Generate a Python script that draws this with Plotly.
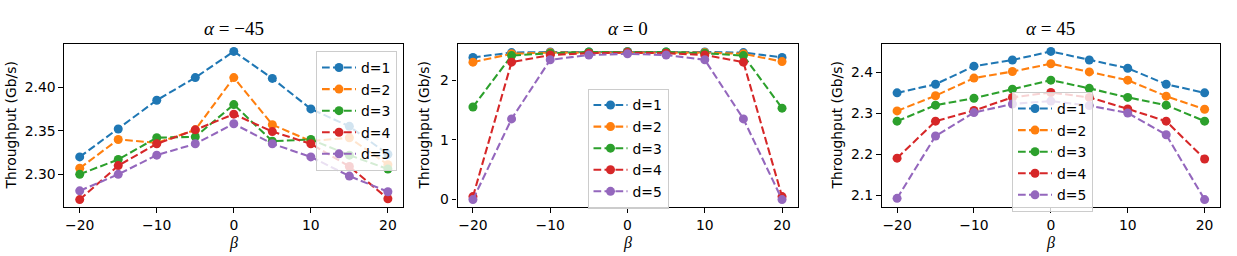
import plotly.graph_objects as go

# ---------------- data ----------------
beta = [-20, -15, -10, -5, 0, 5, 10, 15, 20]
series_names = ["d=1", "d=2", "d=3", "d=4", "d=5"]
panel_titles = ["<i>α</i> = −45", "<i>α</i> = 0", "<i>α</i> = 45"]
x_tick_vals = [-20, -10, 0, 10, 20]

# alpha = -45
am45_d1 = [2.320, 2.352, 2.385, 2.411, 2.441, 2.410, 2.375, 2.355, 2.323]
am45_d2 = [2.307, 2.340, 2.336, 2.351, 2.411, 2.357, 2.338, 2.342, 2.311]
am45_d3 = [2.300, 2.317, 2.342, 2.343, 2.380, 2.338, 2.340, 2.322, 2.306]
am45_d4 = [2.271, 2.310, 2.335, 2.351, 2.369, 2.349, 2.335, 2.309, 2.272]
am45_d5 = [2.281, 2.300, 2.322, 2.335, 2.358, 2.335, 2.320, 2.298, 2.280]

# alpha = 0
a0_d1 = [2.38, 2.46, 2.47, 2.47, 2.48, 2.47, 2.47, 2.46, 2.38]
a0_d2 = [2.30, 2.44, 2.46, 2.46, 2.47, 2.46, 2.46, 2.44, 2.31]
a0_d3 = [1.55, 2.41, 2.45, 2.47, 2.47, 2.47, 2.45, 2.41, 1.53]
a0_d4 = [0.05, 2.30, 2.42, 2.45, 2.46, 2.45, 2.42, 2.30, 0.05]
a0_d5 = [0.00, 1.35, 2.34, 2.42, 2.44, 2.42, 2.34, 1.35, 0.00]

# alpha = 45
a45_d1 = [2.350, 2.371, 2.415, 2.430, 2.451, 2.430, 2.410, 2.371, 2.350]
a45_d2 = [2.306, 2.343, 2.386, 2.402, 2.421, 2.401, 2.381, 2.342, 2.310]
a45_d3 = [2.281, 2.320, 2.337, 2.359, 2.381, 2.361, 2.339, 2.320, 2.281]
a45_d4 = [2.191, 2.281, 2.307, 2.339, 2.351, 2.339, 2.311, 2.281, 2.189]
a45_d5 = [2.093, 2.245, 2.302, 2.323, 2.330, 2.319, 2.301, 2.248, 2.090]

panels = [
    [am45_d1, am45_d2, am45_d3, am45_d4, am45_d5],
    [a0_d1, a0_d2, a0_d3, a0_d4, a0_d5],
    [a45_d1, a45_d2, a45_d3, a45_d4, a45_d5],
]
y_tick_vals = [[2.30, 2.35, 2.40], [0, 1, 2], [2.1, 2.2, 2.3, 2.4]]
y_tick_fmt = [".2f", "d", ".1f"]

# ---------------- style ----------------
W, H = 1237, 256
colors = ["#1f77b4", "#ff7f0e", "#2ca02c", "#d62728", "#9467bd"]
x_px = [(64.3, 403.3), (457.5, 797.5), (881.7, 1220.0)]
y_px = (44.0, 207.0)
ylab_x_px = [10, 423, 836]
legend_pos = [  # (x px, y px, xanchor)
    (397.0, 51.0, "right"),
    (587.5, 88.5, "left"),
    (1012.0, 92.0, "left"),
]
sans = "DejaVu Sans"
serif = "Liberation Serif"
fs = 13.9

fig = go.Figure()
layout = dict(
    width=W, height=H,
    margin=dict(l=0, r=0, t=0, b=0),
    paper_bgcolor="white", plot_bgcolor="white",
    font=dict(family=sans, size=fs, color="black"),
    showlegend=True,
    annotations=[],
)
ydom = [(H - y_px[1]) / H, (H - y_px[0]) / H]

for p, series in enumerate(panels):
    sfx = "" if p == 0 else str(p + 1)
    xa, ya = "x" + sfx, "y" + sfx
    leg = "legend" + sfx
    for i, (name, vals) in enumerate(zip(series_names, series)):
        fig.add_trace(go.Scatter(
            x=beta, y=vals, name=name, mode="lines+markers",
            xaxis=xa, yaxis=ya, legend=leg,
            legendgroup=f"p{p}g{i}",
            line=dict(color=colors[i], width=2.08, dash="7.7px,3.3px"),
            marker=dict(color=colors[i], size=9, line=dict(width=0)),
        ))
    allv = [v for s in series for v in s]
    lo, hi = min(allv), max(allv)
    pad = 0.05 * (hi - lo)
    axis_common = dict(
        showline=True, linecolor="black", linewidth=1.1, mirror=True,
        showgrid=False, zeroline=False,
        ticks="outside", ticklen=4.9, tickwidth=1.1, tickcolor="black",
        tickfont=dict(family=sans, size=fs, color="black"),
    )
    layout["xaxis" + sfx] = dict(
        domain=[x_px[p][0] / W, x_px[p][1] / W], anchor=ya,
        range=[-22, 22], tickmode="array", tickvals=x_tick_vals,
        **axis_common,
    )
    layout["yaxis" + sfx] = dict(
        domain=ydom, anchor=xa,
        range=[lo - pad, hi + pad], tickmode="array",
        tickvals=y_tick_vals[p], tickformat=y_tick_fmt[p],
        **axis_common,
    )
    lx, ly, lanchor = legend_pos[p]
    layout[leg] = dict(
        x=lx / W, y=(H - ly) / H, xanchor=lanchor, yanchor="top",
        xref="paper", yref="paper",
        bgcolor="rgba(255,255,255,0.8)", bordercolor="#cccccc", borderwidth=1,
        font=dict(family=sans, size=fs, color="black"),
        tracegroupgap=0.5, itemwidth=34,
    )
    cx = (x_px[p][0] + x_px[p][1]) / 2 / W
    layout["annotations"].append(dict(
        text=panel_titles[p], x=cx, y=(H - 28) / H, xref="paper", yref="paper",
        xanchor="center", yanchor="middle", showarrow=False,
        font=dict(family=serif, size=19, color="black"),
    ))
    layout["annotations"].append(dict(
        text="<i>β</i>", x=cx, y=(H - 243) / H, xref="paper", yref="paper",
        xanchor="center", yanchor="middle", showarrow=False,
        font=dict(family=serif, size=16, color="black"),
    ))
    layout["annotations"].append(dict(
        text="Throughput (Gb/s)", x=ylab_x_px[p] / W,
        y=(H - (y_px[0] + y_px[1]) / 2) / H, xref="paper", yref="paper",
        xanchor="center", yanchor="middle", showarrow=False, textangle=-90,
        font=dict(family=sans, size=fs, color="black"),
    ))

fig.update_layout(**layout)
fig.write_html(
    "out.html",
    config={"displayModeBar": False},
    post_script="document.body.style.margin='0';document.body.style.padding='0';",
)
